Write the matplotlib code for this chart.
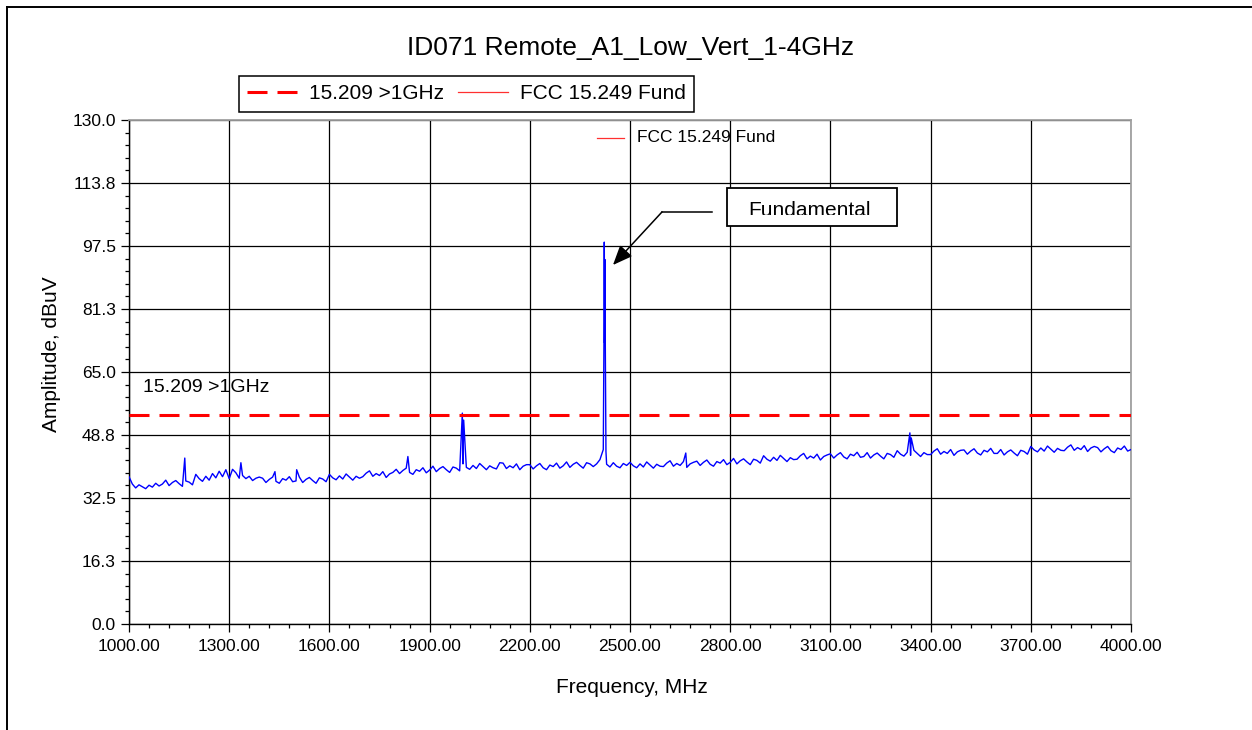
"""Radiated emissions sweep, 1-4 GHz, with FCC limit lines."""
import numpy as np
import matplotlib.pyplot as plt
from matplotlib.lines import Line2D
from matplotlib.patches import Rectangle
from matplotlib.transforms import Bbox, TransformedBbox

plt.rcParams['font.family'] = ['Liberation Sans', 'DejaVu Sans']

# measured trace: noise floor on a 10 MHz grid from 1000 to 4000 MHz
floor_start = 1000
floor_step = 10
floor_dbuv = [
    38.0, 36.1, 35.1, 35.9, 35.4, 34.9, 35.8, 35.3, 36.3, 35.6,
    36.1, 37.1, 35.7, 36.5, 37.0, 36.2, 35.5, 36.9, 36.6, 35.9,
    38.6, 37.5, 36.8, 38.1, 37.1, 38.8, 37.7, 39.4, 38.0, 39.8,
    37.5, 39.9, 39.0, 37.6, 38.3, 37.5, 38.1, 37.0, 37.6, 37.9,
    37.6, 36.5, 37.3, 37.9, 36.8, 36.3, 37.5, 37.1, 38.0, 36.7,
    36.9, 37.9, 36.5, 37.3, 37.8, 37.0, 36.3, 37.7, 37.4, 36.7,
    38.6, 37.7, 37.2, 38.2, 37.4, 38.7, 37.9, 37.1, 38.1, 37.6,
    38.0, 38.9, 39.5, 38.1, 38.8, 38.3, 39.3, 37.8, 38.7, 39.1,
    39.9, 38.8, 39.6, 40.2, 39.1, 38.6, 39.8, 39.4, 40.3, 39.0,
    39.7, 40.7, 39.3, 40.1, 40.6, 39.8, 39.1, 40.5, 40.2, 39.5,
    41.3, 40.4, 39.9, 40.9, 40.1, 41.4, 40.6, 39.8, 40.8, 40.3,
    40.0, 41.6, 41.5, 40.1, 40.8, 40.3, 41.3, 39.8, 40.7, 41.1,
    41.1, 40.0, 40.8, 41.4, 40.3, 39.8, 41.0, 40.6, 41.5, 40.2,
    40.8, 41.8, 40.4, 41.2, 41.7, 40.9, 40.2, 41.6, 41.3, 40.6,
    41.3, 42.4, 45.0, 41.2, 40.5, 41.6, 40.7, 40.3, 41.4, 40.9,
    41.7, 40.8, 40.3, 41.3, 40.5, 41.8, 41.0, 40.2, 41.2, 40.7,
    40.6, 41.5, 42.1, 40.7, 41.4, 40.9, 41.9, 40.4, 41.3, 41.7,
    42.0, 40.9, 41.7, 42.3, 41.2, 40.7, 41.9, 41.5, 42.4, 41.1,
    41.7, 42.7, 41.3, 42.1, 42.6, 41.8, 41.1, 42.5, 42.2, 41.5,
    43.4, 42.5, 42.0, 43.0, 42.2, 43.5, 42.7, 41.9, 42.9, 42.4,
    42.5, 43.4, 44.0, 42.6, 43.3, 42.8, 43.8, 42.3, 43.2, 43.6,
    43.9, 42.8, 43.6, 44.2, 43.1, 42.6, 43.8, 43.4, 44.3, 43.0,
    43.2, 44.2, 42.8, 43.6, 44.1, 43.3, 42.6, 44.0, 43.7, 43.0,
    44.7, 43.8, 43.3, 44.3, 43.5, 44.8, 44.0, 43.2, 44.2, 43.7,
    43.7, 44.6, 45.2, 43.8, 44.5, 44.0, 45.0, 43.5, 44.4, 44.8,
    44.9, 43.8, 44.6, 45.2, 44.1, 43.6, 44.8, 44.4, 45.3, 44.0,
    44.0, 45.0, 43.6, 44.4, 44.9, 44.1, 43.4, 44.8, 44.5, 43.8,
    45.8, 44.9, 44.4, 45.4, 44.6, 45.9, 45.1, 44.3, 45.3, 44.8,
    44.7, 45.6, 46.2, 44.8, 45.5, 45.0, 46.0, 44.5, 45.4, 45.8,
    45.5, 44.4, 45.2, 45.8, 44.7, 44.2, 45.4, 45.0, 45.9, 44.6,
    45.0,
]

# narrow spurs and the fundamental, between grid points
spur_mhz = [1167, 1335, 1437, 1502, 1835, 1998, 2002,
            2422, 2423, 2424, 2425, 2426, 2428, 2667, 3338, 3342]
spur_dbuv = [42.8, 41.6, 39.3, 39.8, 43.2, 54.4, 52.6,
             73.0, 98.5, 72.5, 94.0, 73.0, 44.5, 44.1, 49.3, 48.0]

limit_15209 = 54.0          # 15.209 average limit above 1 GHz
fund_band = [2400, 2483.5]  # FCC 15.249 fundamental band marker
fund_level = 125.4

y_ticks = [0, 16.25, 32.5, 48.75, 65, 81.25, 97.5, 113.75, 130]
y_labels = ["0.0", "16.3", "32.5", "48.8", "65.0", "81.3", "97.5", "113.8", "130.0"]
x_ticks = [1000, 1300, 1600, 1900, 2200, 2500, 2800, 3100, 3400, 3700, 4000]

W, H = 1252, 730
fig = plt.figure(figsize=(W / 100, H / 100), dpi=100)
fig.patch.set_facecolor('white')

# page frame
fig.add_artist(Line2D([6.5 / W, 6.5 / W], [0, 1 - 6.5 / H], transform=fig.transFigure,
                      color='black', lw=1.4))
fig.add_artist(Line2D([6.5 / W, 1], [1 - 6.5 / H, 1 - 6.5 / H], transform=fig.transFigure,
                      color='black', lw=1.4))

ax = fig.add_axes([129 / W, 1 - 624 / H, 1002 / W, 504 / H])

freq = np.arange(len(floor_dbuv)) * floor_step + floor_start
f_all = np.concatenate([freq, spur_mhz])
a_all = np.concatenate([floor_dbuv, spur_dbuv])
order = np.argsort(f_all, kind='stable')
ax.plot(f_all[order], a_all[order], color='#0000ff', lw=1.0, zorder=3)

lw_lim = 2.2
ax.axhline(limit_15209, color='#ff0000', lw=lw_lim,
           linestyle=(0, (14.4 / lw_lim, 7.2 / lw_lim)), zorder=4)
ax.plot(fund_band, [fund_level, fund_level], color='#ff3030', lw=0.9, zorder=4)

ax.set_xlim(1000, 4000)
ax.set_ylim(0, 130)
ax.set_xticks(x_ticks)
ax.set_xticklabels([f"{v:.2f}" for v in x_ticks])
ax.set_yticks(y_ticks)
ax.set_yticklabels(y_labels)
ax.set_xticks(np.arange(1000, 4001, 60), minor=True)
ax.set_yticks(np.arange(0, 130.01, 3.25), minor=True)
ax.tick_params(which='major', direction='out', length=5.5, width=0.9, labelsize=12.5)
ax.tick_params(axis='x', which='major', pad=5)
ax.tick_params(axis='y', which='major', pad=4)
ax.tick_params(which='minor', direction='out', length=3.2, width=0.9)
ax.grid(True, which='major', color='black', lw=0.9)

for side in ('left', 'bottom'):
    ax.spines[side].set_color('black')
    ax.spines[side].set_linewidth(1.0)
for side in ('top', 'right'):
    ax.spines[side].set_color('#a0a0a0')
    ax.spines[side].set_linewidth(1.3)

ax.set_xlabel("Frequency, MHz", fontsize=15)
ax.xaxis.set_label_coords(0.502, -0.108)
ax.set_ylabel("Amplitude, dBuV", fontsize=15)
ax.yaxis.set_label_coords(-0.068, 0.536)

fig.text(631 / W, 1 - 48 / H, "ID071 Remote_A1_Low_Vert_1-4GHz", fontsize=19,
         ha='center', va='center')

# labels inside the plot
ax.text(1042, 60.9, "15.209 >1GHz", fontsize=14, va='center', zorder=0.5)
ax.text(2521, 125.4, "FCC 15.249 Fund", fontsize=12.5, va='center', zorder=0.5)

# callout for the fundamental; its text is cut off at the lower edge
box = Rectangle((2790, 102.7), 509, 9.8, facecolor='white', edgecolor='black',
                lw=1.3, zorder=5)
ax.add_patch(box)
t = ax.text(3036, 105.35, "Fundamental", fontsize=15, ha='center', va='baseline', zorder=6)
t.set_clip_path(None)
t.set_clip_box(TransformedBbox(Bbox([[2790, 105.4], [3299, 112.5]]), ax.transData))
t.set_clip_on(True)
ax.plot([2745, 2596], [106.3, 106.3], color='black', lw=1.1, zorder=5)
ax.annotate('', xy=(2449, 92.6), xytext=(2596, 106.3),
            arrowprops=dict(arrowstyle='-|>,head_length=0.6,head_width=0.25',
                            color='black', lw=1.1, mutation_scale=20,
                            shrinkA=0, shrinkB=0), zorder=5)

handles = [
    Line2D([], [], color='#ff0000', lw=lw_lim, linestyle=(0, (14.4 / lw_lim, 7.2 / lw_lim))),
    Line2D([], [], color='#ff3030', lw=0.9),
]
leg = fig.legend(handles, ["15.209 >1GHz", "FCC 15.249 Fund"], ncol=2, fontsize=15,
                 loc='upper center', bbox_to_anchor=(466.5 / W, 1 - 76 / H),
                 bbox_transform=fig.transFigure, frameon=True, fancybox=False,
                 framealpha=1, edgecolor='black', handlelength=2.4,
                 handletextpad=0.55, columnspacing=0.7, borderpad=0.4,
                 borderaxespad=0)
leg.get_frame().set_linewidth(1.1)

fig.savefig("out.png", dpi=100)
